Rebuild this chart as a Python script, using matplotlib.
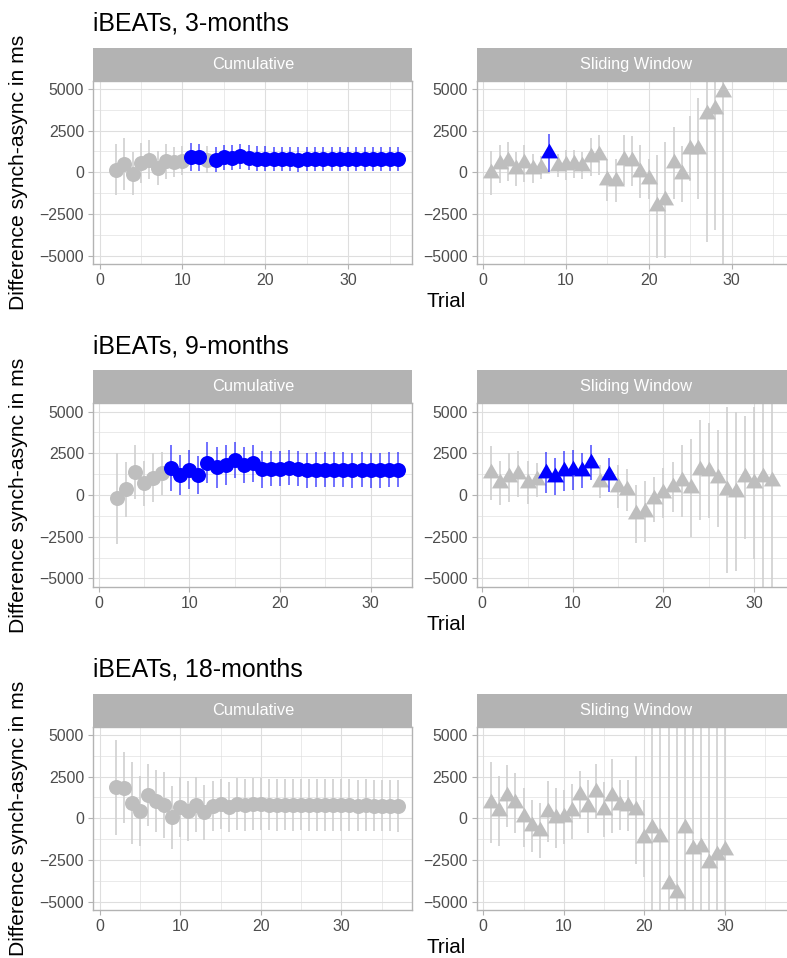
import matplotlib
matplotlib.use("Agg")
import matplotlib.pyplot as plt
from matplotlib.path import Path
from matplotlib.patches import Rectangle
from matplotlib.ticker import MultipleLocator, FixedLocator

plt.rcParams['font.family'] = ['Liberation Sans', 'DejaVu Sans']

# ---------------- data ----------------
# 3-months, Cumulative
cum3_trial = list(range(2, 37))
cum3_mean = [160, 500, -80, 560, 760, 260, 660, 600, 700, 900, 900, 760, 760, 900, 860,
             960, 860, 820, 820, 800, 800, 780, 760, 780, 780, 800, 780, 800, 800, 800,
             800, 800, 800, 800, 800]
cum3_ci = [1550, 1550, 1300, 1200, 1180, 1000, 1050, 900, 850, 850, 800, 800, 750, 750, 750,
           750, 750, 730, 730, 730, 730, 730, 730, 730, 730, 730, 730, 730, 730, 730,
           730, 730, 730, 730, 730]
cum3_sig = [0, 0, 0, 0, 0, 0, 0, 0, 0, 1, 1, 0, 1, 1, 1,
            1, 1, 1, 1, 1, 1, 1, 1, 1, 1, 1, 1, 1, 1, 1,
            1, 1, 1, 1, 1]

# 3-months, Sliding Window
sw3_trial = list(range(1, 30))
sw3_mean = [-50, 500, 650, 200, 530, 220, 280, 1170, 400, 430, 500, 400, 900, 1030, -470,
            -500, 740, 700, 30, -380, -2050, -1660, 550, -100, 1420, 1420, 3500, 3800, 4840]
sw3_ci = [1300, 1150, 1180, 1000, 1100, 850, 700, 1130, 700, 900, 860, 830, 1150, 1200, 1250,
          1300, 1500, 1500, 1600, 1200, 3100, 3500, 2150, 1700, 1950, 3050, 7660, 7260, 12000]
sw3_sig = [0, 0, 0, 0, 0, 0, 0, 1, 0, 0, 0, 0, 0, 0, 0,
           0, 0, 0, 0, 0, 0, 0, 0, 0, 0, 0, 0, 0, 0]

# 9-months, Cumulative
cum9_trial = list(range(2, 34))
cum9_mean = [-200, 340, 1360, 700, 1040, 1300, 1600, 1200, 1500, 1200, 1940, 1660, 1800, 2100,
             1800, 1900, 1540, 1560, 1560, 1640, 1560, 1480, 1500, 1500, 1500, 1500, 1480,
             1500, 1480, 1480, 1500, 1500]
cum9_ci = [2730, 1650, 1620, 1350, 1450, 1300, 1380, 1200, 1170, 1130, 1230, 1220, 1200, 1100,
           1100, 1100, 1100, 1050, 1050, 1050, 1050, 1050, 1050, 1050, 1050, 1050, 1050,
           1050, 1050, 1050, 1050, 1050]
cum9_sig = [0, 0, 0, 0, 0, 0, 1, 1, 1, 1, 1, 1, 1, 1,
            1, 1, 1, 1, 1, 1, 1, 1, 1, 1, 1, 1, 1,
            1, 1, 1, 1, 1]

# 9-months, Sliding Window
sw9_trial = list(range(1, 33))
sw9_mean = [1340, 720, 1060, 1260, 740, 900, 1340, 1100, 1440, 1500, 1440, 1920, 800, 1200,
            500, 320, -1140, -1000, -260, 120, 500, 860, 420, 1500, 1460, 1000, 300, 200,
            1060, 740, 1060, 860]
sw9_ci = [1620, 1340, 1450, 1350, 1300, 1030, 1230, 1100, 1200, 1200, 1050, 1050, 1000, 1020,
          1300, 1250, 1750, 1830, 1350, 1500, 1500, 2150, 2950, 3000, 2850, 2900, 4950, 4750,
          3680, 4550, 12000, 12000]
sw9_sig = [0, 0, 0, 0, 0, 0, 1, 1, 1, 1, 1, 1, 0, 1,
           0, 0, 0, 0, 0, 0, 0, 0, 0, 0, 0, 0, 0, 0,
           0, 0, 0, 0]

# 18-months, Cumulative
cum18_trial = list(range(2, 38))
cum18_mean = [1860, 1840, 900, 440, 1380, 1040, 800, 60, 660, 430, 820, 360, 760, 880, 700,
              860, 800, 860, 840, 820, 800, 820, 800, 820, 800, 780, 800, 780, 800, 780,
              760, 780, 760, 760, 760, 740]
cum18_ci = [2850, 2150, 2460, 2100, 1850, 1850, 2000, 1900, 1800, 1780, 1670, 1650, 1500, 1500,
            1500, 1550, 1550, 1550, 1550, 1550, 1550, 1550, 1550, 1550, 1550, 1550, 1550, 1550,
            1550, 1550, 1550, 1550, 1550, 1550, 1550, 1550]
cum18_sig = [0] * 36

# 18-months, Sliding Window
sw18_trial = list(range(1, 31))
sw18_mean = [940, 450, 1340, 920, 50, -450, -740, 400, 0, 60, 420, 1400, 700, 1600, 500,
             1340, 800, 760, 500, -1200, -600, -1100, -3960, -4500, -560, -1840, -1700, -2700,
             -2200, -1920]
sw18_ci = [2430, 2100, 1850, 1800, 1750, 1550, 1650, 1850, 1800, 1630, 1640, 1420, 1600, 1670,
           1650, 2230, 1520, 1530, 3260, 2300, 12000, 12000, 12000, 12000, 12000, 12000, 12000,
           12000, 12000, 12000]
sw18_sig = [0] * 30

titles = ["iBEATs, 3-months", "iBEATs, 9-months", "iBEATs, 18-months"]
strip_labels = ["Cumulative", "Sliding Window"]
x_ticks = [0, 10, 20, 30]
y_ticks = [-5000, -2500, 0, 2500, 5000]
x_limits = [(-0.75, 37.75), (-0.6, 34.6), (-0.8, 38.8)]

rows = [
    ((cum3_trial, cum3_mean, cum3_ci, cum3_sig), (sw3_trial, sw3_mean, sw3_ci, sw3_sig)),
    ((cum9_trial, cum9_mean, cum9_ci, cum9_sig), (sw9_trial, sw9_mean, sw9_ci, sw9_sig)),
    ((cum18_trial, cum18_mean, cum18_ci, cum18_sig), (sw18_trial, sw18_mean, sw18_ci, sw18_sig)),
]

# ---------------- styling ----------------
W, H = 787, 958
fig = plt.figure(figsize=(W / 100, H / 100), dpi=100)

GREY_PT = "#BEBEBE"
GREY_BAR = "#D0D0D0"
BLUE_PT = "#0000FF"
BLUE_BAR = (0.0, 0.0, 1.0, 0.65)
STRIP = "#B3B3B3"
GRID = "#DEDEDE"

tri_path = Path([(0, 1.555), (1.347, -0.778), (-1.347, -0.778), (0, 1.555)],
                [Path.MOVETO, Path.LINETO, Path.LINETO, Path.CLOSEPOLY])


def rect(x0, y0, x1, y1):
    return [x0 / W, 1 - y1 / H, (x1 - x0) / W, (y1 - y0) / H]


panel_x = [(93.3, 412.3), (476.8, 795.8)]
zero_y = [172.3, 495.0, 818.3]
PH = 183.5
STRIP_H = 33

for r in range(3):
    ptop = zero_y[r] - PH / 2
    pbot = zero_y[r] + PH / 2
    stop = ptop - STRIP_H
    for c in range(2):
        trial, mean, ci, sig = rows[r][c]
        x0, x1 = panel_x[c]
        ax = fig.add_axes(rect(x0, ptop, x1, pbot))
        ax.set_xlim(*x_limits[r])
        ax.set_ylim(-5500, 5500)
        ax.xaxis.set_major_locator(FixedLocator(x_ticks))
        ax.yaxis.set_major_locator(FixedLocator(y_ticks))
        ax.xaxis.set_minor_locator(MultipleLocator(5))
        ax.yaxis.set_minor_locator(MultipleLocator(1250))
        ax.grid(which='major', color=GRID, lw=0.8, zorder=0)
        ax.grid(which='minor', color=GRID, lw=0.45, zorder=0)
        ax.set_axisbelow(True)
        ax.tick_params(which='minor', length=0)
        ax.tick_params(which='major', length=3.6, width=0.8, color=STRIP,
                       labelcolor="#4D4D4D", labelsize=11.4)
        ax.tick_params(axis='x', pad=3.0)
        ax.tick_params(axis='y', pad=3)
        for sp in ax.spines.values():
            sp.set_color(STRIP)
            sp.set_linewidth(1.0)
            sp.set_zorder(5)

        for group in (0, 1):
            tx = [t for t, s in zip(trial, sig) if s == group]
            tm = [m for m, s in zip(mean, sig) if s == group]
            tc = [e for e, s in zip(ci, sig) if s == group]
            if not tx:
                continue
            lo = [m - e for m, e in zip(tm, tc)]
            hi = [m + e for m, e in zip(tm, tc)]
            ax.vlines(tx, lo, hi, colors=BLUE_BAR if group else GREY_BAR,
                      lw=1.2, zorder=2 + 2 * group)
        for group in (0, 1):
            tx = [t for t, s in zip(trial, sig) if s == group]
            tm = [m for m, s in zip(mean, sig) if s == group]
            if not tx:
                continue
            col = BLUE_PT if group else GREY_PT
            if c == 0:
                ax.plot(tx, tm, ls='none', marker='o', ms=10.8, mfc=col, mec='none',
                        zorder=3 + 2 * group)
            else:
                ax.plot(tx, tm, ls='none', marker=tri_path, ms=14.2, mfc=col, mec='none',
                        zorder=3 + 2 * group)

        # strip
        fig.add_artist(Rectangle((x0 / W, 1 - ptop / H), (x1 - x0) / W, STRIP_H / H,
                                 transform=fig.transFigure, facecolor=STRIP,
                                 edgecolor='none'))
        fig.text(((x0 + x1) / 2) / W, 1 - (stop + STRIP_H / 2) / H, strip_labels[c],
                 color='white', fontsize=11.8, ha='center', va='center')

    fig.text(93 / W, 1 - (stop - 16.6) / H, titles[r], fontsize=17.9, ha='left',
             va='baseline', color='black')
    fig.text(19 / W, 1 - zero_y[r] / H, "Difference synch-async in ms", rotation=90,
             fontsize=15.2, ha='center', va='center', color='black')
    fig.text(446 / W, 1 - (pbot + 37.5) / H, "Trial", fontsize=14.8, ha='center',
             va='center', color='black')

fig.savefig("out.png", dpi=100)
